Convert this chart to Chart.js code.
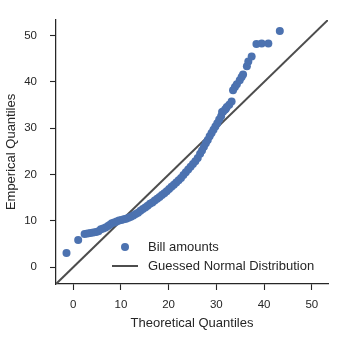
<!DOCTYPE html>
<html>
<head>
<meta charset="utf-8">
<script src="https://cdn.jsdelivr.net/npm/chart.js@4/dist/chart.umd.min.js"></script>
<style>
  html, body { margin: 0; padding: 0; background: #fff; }
  #wrap { position: relative; width: 339px; height: 337px; }
  #legend { position: absolute; left: 0; top: 0; font-family: "Liberation Sans", Arial, sans-serif; font-size: 13px; color: #262626; }
  #legend .row { position: absolute; left: 110px; height: 18px; line-height: 18px; white-space: nowrap; }
  #legend .dot { position: absolute; left: 11px; top: 5px; width: 8px; height: 8px; border-radius: 50%; background: #4c72b0; }
  #legend .line { position: absolute; left: 2px; top: 8px; width: 26px; height: 2px; background: #4d4d4d; }
  #legend .lbl { position: absolute; left: 38px; top: 0; }
</style>
</head>
<body>
<div id="wrap">
  <canvas id="qq" width="339" height="337"></canvas>
  <div id="legend">
    <div class="row" style="top:238px"><span class="dot"></span><span class="lbl">Bill amounts</span></div>
    <div class="row" style="top:257px"><span class="line"></span><span class="lbl">Guessed Normal Distribution</span></div>
  </div>
</div>
<script>
// values
const theoretical = [
    -1.4, 1.05, 2.4, 3.0, 3.6, 4.2, 4.8, 5.3, 5.8, 6.3,
    6.8, 7.3, 7.7, 8.1, 8.6, 9.1, 9.6, 10.1, 10.6, 11.1,
    11.6, 12.1, 12.6, 13.1, 13.6, 14.1, 14.6, 15.1, 15.6, 16.1,
    16.6, 17.1, 17.6, 18.1, 18.6, 19.1, 19.6, 20.1, 20.6, 21.1,
    21.6, 22.1, 22.6, 23.1, 23.6, 24.1, 24.6, 25.1, 25.6, 26.1,
    26.6, 27.0, 27.4, 27.8, 28.2, 28.6, 29.0, 29.4, 29.8, 30.2,
    30.6, 31.0, 31.2, 31.4, 31.8, 32.0, 32.2, 32.7, 33.2, 33.5,
    33.9, 34.3, 34.9, 35.3, 35.6, 36.4, 36.7, 37.4, 38.4, 39.5,
    40.9, 43.3
];
const empirical = [
    3.1, 5.9, 7.2, 7.3, 7.4, 7.5, 7.6, 7.8, 8.2, 8.4,
    8.6, 8.9, 9.2, 9.5, 9.7, 9.9, 10.1, 10.2, 10.4, 10.5,
    10.7, 10.9, 11.2, 11.5, 11.8, 12.2, 12.6, 12.9, 13.3, 13.7,
    14.0, 14.4, 14.8, 15.2, 15.6, 16.0, 16.4, 16.9, 17.4, 17.8,
    18.3, 18.8, 19.3, 19.9, 20.5, 21.1, 21.7, 22.3, 22.9, 23.6,
    24.5, 25.2, 26.0, 26.8, 27.5, 28.3, 29.0, 29.7, 30.4, 31.1,
    31.9, 32.6, 33.5, 33.6, 34.0, 34.2, 34.6, 35.1, 35.8, 38.2,
    38.9, 39.5, 40.4, 41.1, 41.6, 43.4, 44.4, 45.5, 48.2, 48.3,
    48.3, 51.0
];
const guessX = [-3.6, 53.4];
const guessY = [-3.6, 53.4];
const tickVals = [0, 10, 20, 30, 40, 50];

const ink = '#262626';
const font = { family: '"Liberation Sans", Arial, sans-serif', size: 11.5 };
const titleFont = { family: '"Liberation Sans", Arial, sans-serif', size: 13 };

function axis(title, fit) {
    return {
        type: 'linear',
        min: -3.6,
        max: 53.4,
        border: { display: true, color: ink, width: 1.25 },
        grid: { display: true, drawOnChartArea: false, drawTicks: true, tickLength: 6, color: ink, tickWidth: 1.1 },
        ticks: { color: ink, font: font, padding: 0, maxRotation: 0 },
        title: { display: true, text: title, color: ink, font: titleFont },
        afterBuildTicks: s => { s.ticks = tickVals.map(v => ({ value: v })); },
        afterFit: fit
    };
}

const xAxis = axis('Theoretical Quantiles', s => { s.height = 53; });
xAxis.ticks.padding = 8;
xAxis.title.padding = { top: 0, bottom: 6 };
const yAxis = axis('Emperical Quantiles', s => { s.width = 56; });
yAxis.ticks.padding = 13;
yAxis.title.padding = { top: 4, bottom: 0 };

new Chart(document.getElementById('qq'), {
    type: 'scatter',
    data: {
        datasets: [
            {
                label: 'Bill amounts',
                data: theoretical.map((x, i) => ({ x: x, y: empirical[i] })),
                backgroundColor: '#4c72b0',
                borderWidth: 0,
                pointRadius: 4,
                pointHoverRadius: 4
            },
            {
                label: 'Guessed Normal Distribution',
                type: 'line',
                data: guessX.map((x, i) => ({ x: x, y: guessY[i] })),
                borderColor: '#4d4d4d',
                borderWidth: 2,
                pointRadius: 0,
                fill: false
            }
        ]
    },
    options: {
        responsive: false,
        animation: false,
        devicePixelRatio: 1,
        layout: { padding: { top: 13, right: 11, left: 0, bottom: 0 } },
        plugins: { legend: { display: false }, tooltip: { enabled: false } },
        scales: { x: xAxis, y: yAxis }
    }
});
</script>
</body>
</html>
